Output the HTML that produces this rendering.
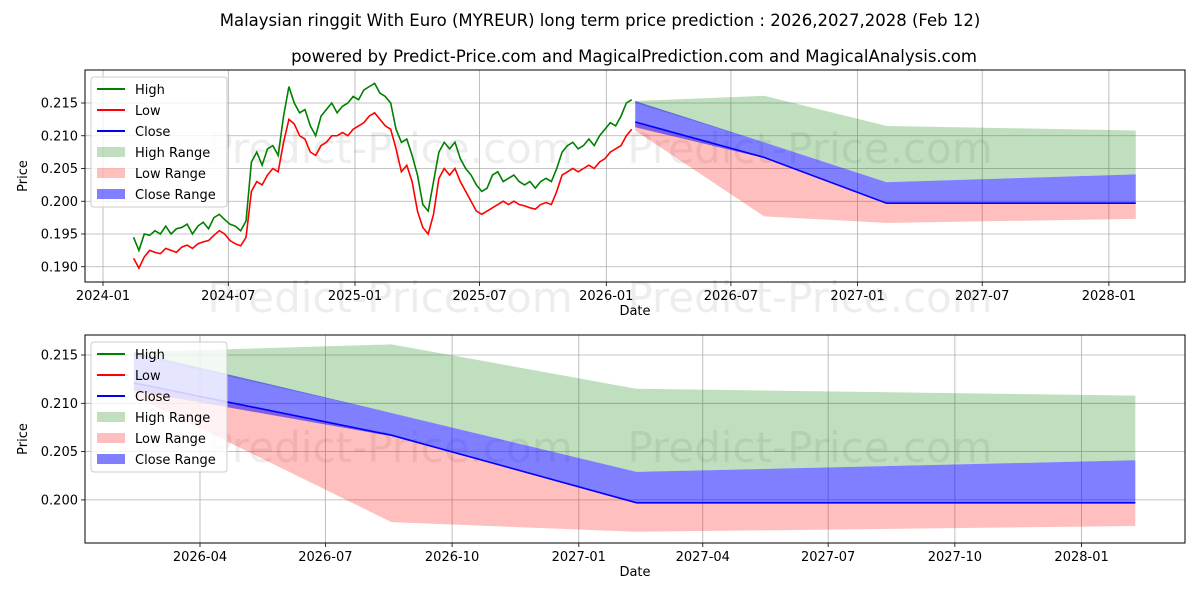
<!DOCTYPE html>
<html><head><meta charset="utf-8"><style>
body{margin:0;background:#fff;font-family:"Liberation Sans","DejaVu Sans",sans-serif}
svg text{font-family:"DejaVu Sans","Liberation Sans",sans-serif}
</style></head><body>
<svg id="c" width="1200" height="600" xmlns="http://www.w3.org/2000/svg"></svg>
<script>
// historical data
const histStartDay = 44.4; // days since 2024-01-01
const histStepDays = 7.78;
const lowVals = [.1913,.1898,.1915,.1925,.1922,.1920,.1928,.1925,.1922,.1930,.1933,.1928,.1935,.1938,.1940,.1948,.1955,.1950,.1940,.1935,.1932,.1945,.2015,.2030,.2025,.2040,.2050,.2045,.2090,.2125,.2118,.2100,.2095,.2075,.2070,.2085,.2090,.2100,.2100,.2105,.2100,.2110,.2115,.2120,.2130,.2135,.2125,.2115,.2110,.2080,.2045,.2055,.2030,.1985,.1960,.1950,.1980,.2035,.2050,.2040,.2050,.2030,.2015,.2000,.1985,.1980,.1985,.1990,.1995,.2000,.1995,.2000,.1995,.1993,.1990,.1988,.1995,.1998,.1995,.2015,.2040,.2045,.2050,.2045,.2050,.2055,.2050,.2060,.2065,.2075,.2080,.2085,.2100,.2110];
const highVals = [.1945,.1925,.1950,.1948,.1955,.1950,.1962,.1950,.1958,.1960,.1965,.1950,.1962,.1968,.1958,.1975,.1980,.1972,.1965,.1962,.1955,.1970,.2060,.2075,.2055,.2080,.2085,.2070,.2130,.2175,.2150,.2135,.2140,.2115,.2100,.2130,.2140,.2150,.2135,.2145,.2150,.2160,.2155,.2170,.2175,.2180,.2165,.2160,.2150,.2110,.2090,.2095,.2070,.2040,.1995,.1985,.2030,.2075,.2090,.2080,.2090,.2065,.2050,.2040,.2025,.2015,.2020,.2040,.2045,.2030,.2035,.2040,.2030,.2025,.2030,.2020,.2030,.2035,.2030,.2050,.2075,.2085,.2090,.2080,.2085,.2095,.2085,.2100,.2110,.2120,.2115,.2130,.2150,.2155];
// forecast data (days since 2024-01-01: 2026-02-12, 2026-08-18, 2027-02-12, 2028-02-12)
const fcDays = [773, 960, 1138, 1500];
const highRangeTop = [.2153,.2161,.2115,.2108];
const highRangeBot = [.2150,.2090,.2029,.2041];
const closeRangeTop = [.2153,.2090,.2029,.2041];
const closeRangeBot = [.2113,.2066,.1997,.1997];
const lowRangeTop = [.2121,.2067,.1997,.1997];
const lowRangeBot = [.2108,.1977,.1967,.1973];
const closeVals = [.2121,.2067,.1997,.1997];
const topXTicks = ["2024-01","2024-07","2025-01","2025-07","2026-01","2026-07","2027-01","2027-07","2028-01"];
const topXTickDays = [0,182,366,547,731,912,1096,1277,1461];
const topYTicks = [0.190,0.195,0.200,0.205,0.210,0.215];
const botXTicks = ["2026-04","2026-07","2026-10","2027-01","2027-04","2027-07","2027-10","2028-01"];
const botXTickDays = [821,912,1004,1096,1186,1277,1369,1461];
const botYTicks = [0.200,0.205,0.210,0.215];

const NS="http://www.w3.org/2000/svg";
const svg=document.getElementById('c');
function el(tag,attrs,parent){const e=document.createElementNS(NS,tag);for(const k in attrs)e.setAttribute(k,attrs[k]);(parent||svg).appendChild(e);return e;}
function txt(s,attrs){const t=el('text',attrs);t.textContent=s;return t;}

let t=txt("Malaysian ringgit With Euro (MYREUR) long term price prediction : 2026,2027,2028 (Feb 12)",{x:600,y:26,'text-anchor':'middle','font-size':16.5,fill:'#000'});


t=txt("powered by Predict-Price.com and MagicalPrediction.com and MagicalAnalysis.com",{x:634,y:62,'text-anchor':'middle','font-size':16.5,fill:'#000'});



function panel(cfg){
  const g=el('g',{});
  
  
  const {L,R,T,B,x,y}=cfg;
  cfg.xTickDays.forEach((d,i)=>{
    const X=x(d);
    const gl=el('line',{x1:X,x2:X,y1:T,y2:B,stroke:'#b0b0b0','stroke-width':0.8},g);
    
    
    el('line',{x1:X,x2:X,y1:B,y2:B+4,stroke:'#000','stroke-width':0.8},g);
    const tl=txt(cfg.xTicks[i],{x:X,y:B+18,'text-anchor':'middle','font-size':13,fill:'#000'});
    
    
    g.appendChild(tl);
  });
  cfg.yTicks.forEach(v=>{
    const Y=y(v);
    const gl=el('line',{x1:L,x2:R,y1:Y,y2:Y,stroke:'#b0b0b0','stroke-width':0.8},g);
    
    
    el('line',{x1:L-4,x2:L,y1:Y,y2:Y,stroke:'#000','stroke-width':0.8},g);
    const tl=txt(v.toFixed(3),{x:L-7,y:Y+4.5,'text-anchor':'end','font-size':13,fill:'#000'});
    
    
    g.appendChild(tl);
  });
  cfg.marks.forEach(m=>{
    const w=txt("Predict-Price.com",{x:m[0],y:m[1],'text-anchor':'middle','font-size':42,fill:'rgba(0,0,0,0.07)'});
    
    
    g.appendChild(w);
  });
  function band(top,bot,fill,name){
    let p=fcDays.map((d,i)=>x(d)+','+y(top[i]));
    p=p.concat(fcDays.map((d,i)=>x(d)+','+y(bot[i])).reverse());
    const b=el('polygon',{points:p.join(' '),fill:fill},g);
    
    
  }
  band(highRangeTop,highRangeBot,'rgba(0,128,0,0.25)','high-range-band');
  band(lowRangeTop,lowRangeBot,'rgba(255,0,0,0.25)','low-range-band');
  band(closeRangeTop,closeRangeBot,'rgba(0,0,255,0.5)','close-range-band');
  function line(vals,days,color,name){
    const pts=vals.map((v,i)=>x(days[i])+','+y(v)).join(' ');
    const l=el('polyline',{points:pts,fill:'none',stroke:color,'stroke-width':1.6},g);
    
    
  }
  if(cfg.hist){
    const hd=highVals.map((_,i)=>histStartDay+i*histStepDays);
    line(highVals,hd,'#008000','high-line');
    line(lowVals,hd,'#ff0000','low-line');
  }
  line(closeVals,fcDays,'#0000ff','close-line');
  const fr=el('rect',{x:L,y:T,width:R-L,height:B-T,fill:'none',stroke:'#000','stroke-width':1},g);
  
  
  let xl=txt("Date",{x:(L+R)/2,y:B+33,'text-anchor':'middle','font-size':13});
  
  
  let yl=txt("Price",{x:0,y:0,'text-anchor':'middle','font-size':13,transform:`translate(27,${(T+B)/2}) rotate(-90)`});
  
  
  const lg=el('g',{});
  
  
  const LX=L+6,LY=T+7;
  el('rect',{x:LX,y:LY,width:136,height:130,rx:3,fill:'rgba(255,255,255,0.8)',stroke:'#ccc'},lg);
  const items=[['High','line','#008000'],['Low','line','#ff0000'],['Close','line','#0000ff'],['High Range','patch','rgba(0,128,0,0.25)'],['Low Range','patch','rgba(255,0,0,0.25)'],['Close Range','patch','rgba(0,0,255,0.5)']];
  items.forEach((it,i)=>{
    const cy=LY+12+i*21;
    const e=el('g',{},lg);
    
    
    if(it[1]=='line') el('line',{x1:LX+6,x2:LX+34,y1:cy,y2:cy,stroke:it[2],'stroke-width':2},e);
    else el('rect',{x:LX+6,y:cy-5,width:28,height:10,fill:it[2]},e);
    const tt=txt(it[0],{x:LX+44,y:cy+5,'font-size':13});e.appendChild(tt);
  });
}
panel({name:'top-panel',L:85,R:1185,T:70,B:282,hist:true,
  x:d=>103+d*0.6885, y:v=>103+(0.215-v)*6550,
  xTicks:topXTicks,xTickDays:topXTickDays,yTicks:topYTicks,
  marks:[[390,163],[810,163],[390,312],[810,312]]});
panel({name:'bottom-panel',L:85,R:1185,T:335,B:543,hist:false,
  x:d=>200+(d-821)*1.3775, y:v=>355+(0.215-v)*9660,
  xTicks:botXTicks,xTickDays:botXTickDays,yTicks:botYTicks,
  marks:[[390,462],[810,462]]});
</script>
</body></html>
